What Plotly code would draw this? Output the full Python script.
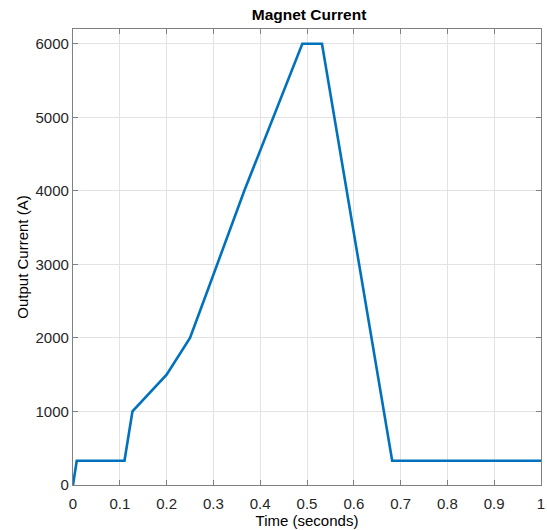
import plotly.graph_objects as go

time_s = [0.0, 0.008, 0.11, 0.127, 0.2, 0.25, 0.285, 0.366, 0.49, 0.532, 0.682, 1.0]
current_a = [0, 330, 330, 1000, 1500, 2000, 2600, 4000, 6000, 6000, 330, 330]
x_ticks = [0, 0.1, 0.2, 0.3, 0.4, 0.5, 0.6, 0.7, 0.8, 0.9, 1]
x_tick_labels = ["0", "0.1", "0.2", "0.3", "0.4", "0.5", "0.6", "0.7", "0.8", "0.9", "1"]
y_ticks = [0, 1000, 2000, 3000, 4000, 5000, 6000]

fig = go.Figure()
fig.add_trace(go.Scatter(x=time_s, y=current_a, mode="lines",
                         line=dict(color="#0072BD", width=2.6), showlegend=False))

axis_common = dict(showline=True, linecolor="#808080", linewidth=1.3, mirror="ticks",
                   ticks="inside", ticklen=5, tickcolor="#808080", tickwidth=1,
                   showgrid=True, gridcolor="#e3e3e3", gridwidth=1, zeroline=False,
                   automargin=False, ticklabeloverflow="allow",
                   tickfont=dict(family="Liberation Sans, Arial", size=15, color="#262626"),
                   title_font=dict(family="Liberation Sans, Arial", size=15, color="#000000"))

fig.update_layout(
    width=547, height=530,
    margin=dict(l=73, r=6, t=29, b=45),
    paper_bgcolor="white", plot_bgcolor="white",
    title=dict(text="<b>Magnet Current</b>", x=0.565, xanchor="center", y=0.972, yanchor="middle",
               font=dict(family="Liberation Sans, Arial", size=15.5, color="#000000")),
    xaxis=dict(range=[0, 1], tickvals=x_ticks, ticktext=x_tick_labels, ticklabelstandoff=5,
               title=dict(text="Time (seconds)", standoff=1), **axis_common),
    yaxis=dict(range=[0, 6200], tickvals=y_ticks,
               title=dict(text="Output Current (A)", standoff=3), **axis_common),
)

fig.write_html("out.html", config={"displayModeBar": False},
               post_script="document.body.style.margin='0';document.body.style.overflow='hidden';")
